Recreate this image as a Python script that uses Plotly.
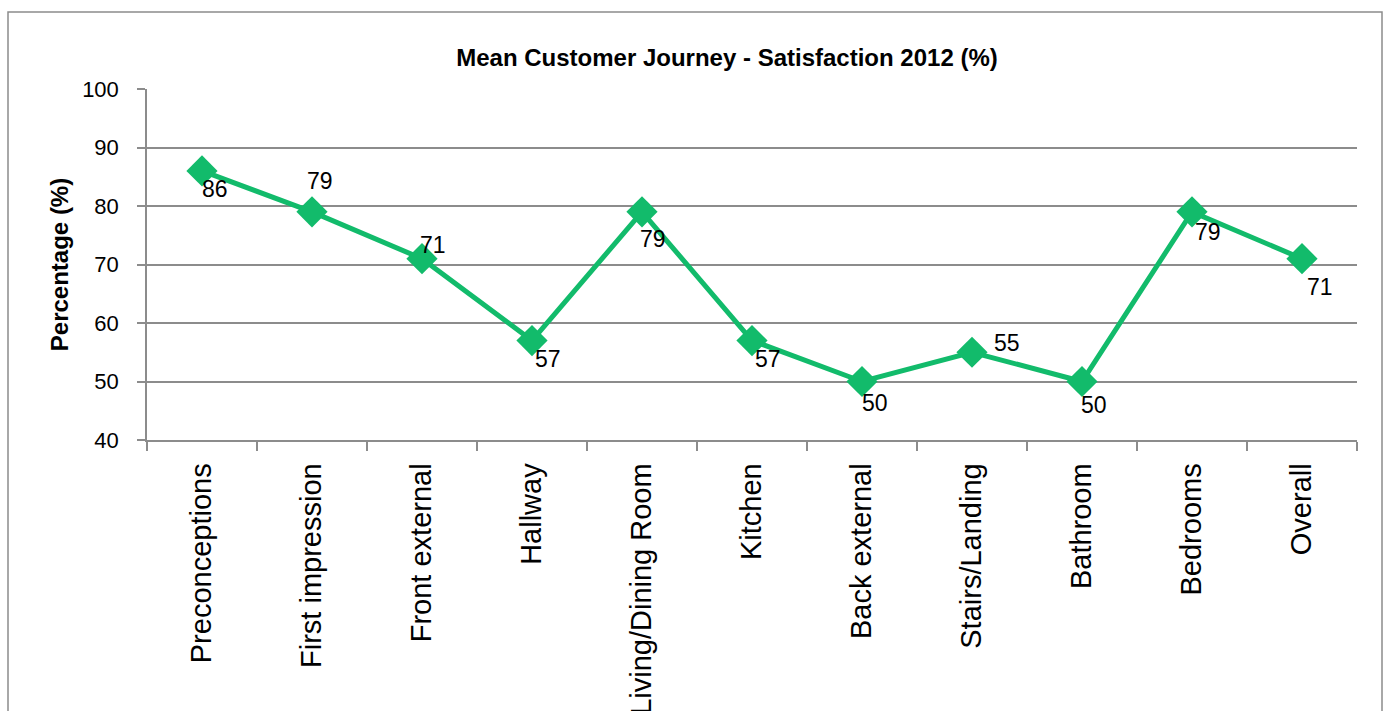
import plotly.graph_objects as go

categories = ["Preconceptions", "First impression", "Front external", "Hallway",
              "Living/Dining Room", "Kitchen", "Back external", "Stairs/Landing",
              "Bathroom", "Bedrooms", "Overall"]
values = [86, 79, 71, 57, 79, 57, 50, 55, 50, 79, 71]
y_ticks = [40, 50, 60, 70, 80, 90, 100]

# label offsets (pixels, right / down) – styling only
label_dx = [13, 8, 11, 16, 11, 16, 13, 35, 12, 16, 18]
label_dy = [18, -31, -14, 18, 27, 18, 21, -9, 23, 20, 28]

GREEN = "#12BB6B"
GRID = "#8C8C8C"
FONT = "Liberation Sans"

fig = go.Figure()
fig.add_trace(go.Scatter(
    x=categories, y=values,
    mode="lines+markers",
    line=dict(color=GREEN, width=5),
    marker=dict(symbol="diamond", size=24, color=GREEN),
    cliponaxis=False,
    showlegend=False,
))

annotations = []
for c, v, dx, dy in zip(categories, values, label_dx, label_dy):
    annotations.append(dict(
        x=c, y=v, xref="x", yref="y", text=str(v), showarrow=False,
        xanchor="center", yanchor="middle", xshift=dx, yshift=-dy,
        font=dict(family=FONT, size=23, color="black"),
    ))

fig.update_layout(
    width=1388, height=711,
    margin=dict(l=147, r=31, t=89, b=271, autoexpand=False),
    paper_bgcolor="white", plot_bgcolor="white",
    title=dict(text="<b>Mean Customer Journey - Satisfaction 2012 (%)</b>",
               x=(727 - 147) / 1210, xref="paper", xanchor="center",
               y=1 - 58 / 711, yanchor="middle",
               font=dict(family=FONT, size=24, color="black")),
    xaxis=dict(
        type="category", tickangle=-90, tickson="boundaries",
        ticks="outside", ticklen=9, tickcolor=GRID, tickwidth=1.5,
        showline=True, linecolor=GRID, linewidth=1.5,
        showgrid=False, automargin=False, ticklabelstandoff=10,
        tickfont=dict(family=FONT, size=29, color="black"),
        range=[-0.5, len(categories) - 0.5],
    ),
    yaxis=dict(
        range=[40, 100], tickvals=y_ticks,
        ticks="outside", ticklen=8, tickcolor=GRID, tickwidth=1.5,
        showline=True, linecolor=GRID, linewidth=1.5,
        showgrid=True, gridcolor=GRID, gridwidth=1.5,
        zeroline=False, automargin=False, ticklabelstandoff=14,
        tickfont=dict(family=FONT, size=22, color="black"),
        title=dict(text="<b>Percentage (%)</b>", standoff=7,
                   font=dict(family=FONT, size=24, color="black")),
    ),
    annotations=annotations,
    shapes=[dict(type="rect", xref="paper", yref="paper",
                 x0=(8 - 147) / 1210, x1=(1382 - 147) / 1210,
                 y0=-1.0, y1=(440 - 12) / 351,
                 line=dict(color=GRID, width=1.5), fillcolor="rgba(0,0,0,0)",
                 layer="below")],
)

fig.write_html("out.html")
